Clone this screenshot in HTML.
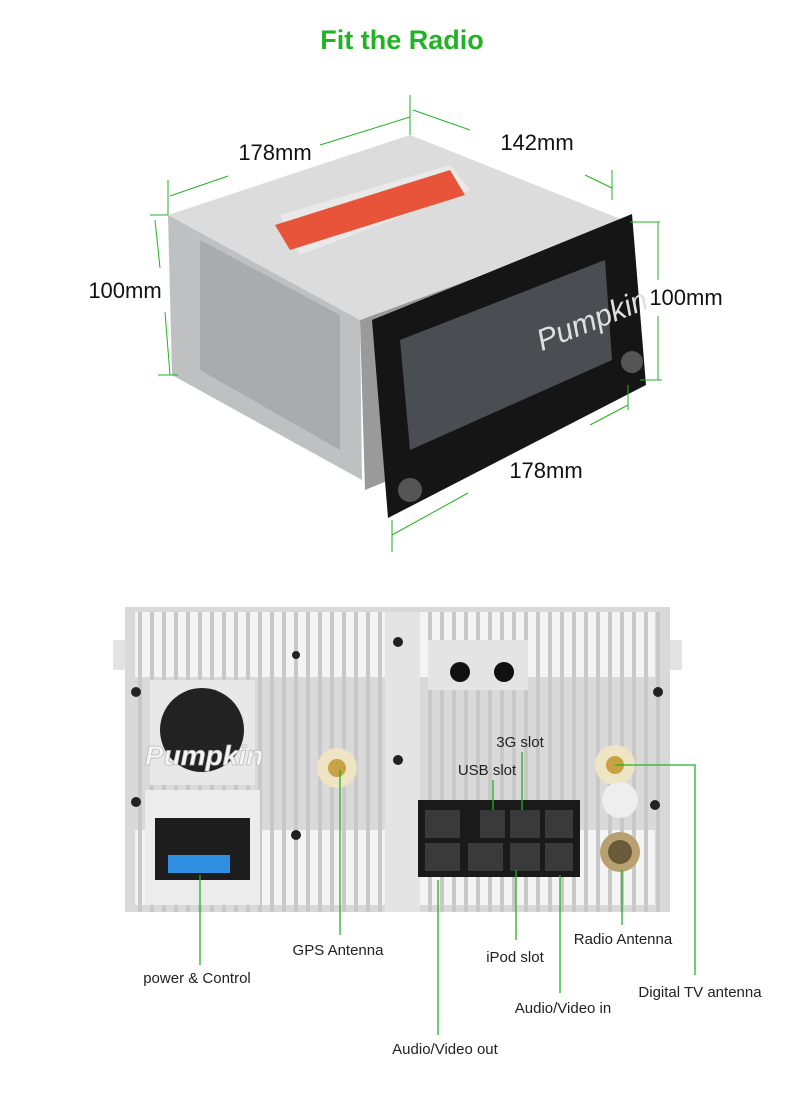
<!DOCTYPE html>
<html><head><meta charset="utf-8"><style>
html,body{margin:0;padding:0;background:#fff;}
body{width:799px;height:1098px;position:relative;overflow:hidden;font-family:"Liberation Sans",sans-serif;}
</style></head><body>
<svg width="799" height="1098" viewBox="0 0 799 1098" xmlns="http://www.w3.org/2000/svg" font-family="Liberation Sans, sans-serif">
<text x="402" y="49" text-anchor="middle" font-size="27" font-weight="bold" fill="#22b324">Fit the Radio</text>

<!-- top device -->
<polygon points="168,215 410,135 628,222 360,320" fill="#dcdcdc"/>
<polygon points="280,215 450,165 470,190 300,255" fill="#e9e9e9"/>
<polygon points="275,225 450,170 465,195 290,250" fill="#e8543a"/>
<polygon points="168,215 360,320 362,480 172,375" fill="#bfc0c2"/>
<polygon points="200,240 340,315 340,450 200,370" fill="#a9abad"/>
<polygon points="360,320 628,222 634,380 365,490" fill="#9a9a9a"/>
<polygon points="372,320 632,214 646,385 388,518" fill="#151515"/>
<polygon points="400,340 605,260 612,360 410,450" fill="#4a4d52"/>
<text x="525" y="335" font-size="30" fill="#e0e0e0" transform="rotate(-22 575 300)" font-style="italic">Pumpkin</text>
<circle cx="410" cy="490" r="12" fill="#555"/>
<circle cx="632" cy="362" r="11" fill="#555"/>

<g stroke="#22b324" stroke-width="1" fill="none">
<line x1="170" y1="196" x2="228" y2="176"/><line x1="320" y1="145" x2="410" y2="117"/>
<line x1="168" y1="180" x2="168" y2="215"/><line x1="410" y1="95" x2="410" y2="135"/>
<line x1="413" y1="110" x2="470" y2="130"/><line x1="585" y1="175" x2="612" y2="188"/>
<line x1="612" y1="170" x2="612" y2="200"/>
<line x1="150" y1="215" x2="168" y2="215"/><line x1="155" y1="220" x2="160" y2="268"/><line x1="165" y1="312" x2="170" y2="375"/><line x1="158" y1="375" x2="178" y2="375"/>
<line x1="630" y1="222" x2="660" y2="222"/><line x1="658" y1="222" x2="658" y2="280"/><line x1="658" y1="316" x2="658" y2="380"/><line x1="640" y1="380" x2="662" y2="380"/>
<line x1="392" y1="535" x2="468" y2="493"/><line x1="392" y1="520" x2="392" y2="552"/><line x1="628" y1="385" x2="628" y2="410"/><line x1="590" y1="425" x2="628" y2="405"/>
</g>
<g font-size="22" fill="#111">
<text x="275" y="160" text-anchor="middle">178mm</text>
<text x="537" y="150" text-anchor="middle">142mm</text>
<text x="125" y="298" text-anchor="middle">100mm</text>
<text x="686" y="305" text-anchor="middle">100mm</text>
<text x="546" y="478" text-anchor="middle">178mm</text>
</g>

<!-- back panel -->
<rect x="113" y="640" width="14" height="30" fill="#e3e3e3"/>
<rect x="668" y="640" width="14" height="30" fill="#e3e3e3"/>
<rect x="125" y="607" width="545" height="305" fill="#d9d9d9"/>
<g fill="#f4f4f4">
<rect x="135" y="612" width="520" height="65"/>
<rect x="135" y="830" width="520" height="75"/>
</g>
<g stroke="#c8c8c8" stroke-width="4">
<path d="M140 612v300M152 612v300M164 612v300M176 612v300M188 612v300M200 612v300M212 612v300M224 612v300M236 612v300M248 612v300M260 612v300M272 612v300M284 612v300M296 612v300M308 612v300M320 612v300M332 612v300M344 612v300M356 612v300M368 612v300M380 612v300M430 612v300M442 612v300M454 612v300M466 612v300M478 612v300M490 612v300M502 612v300M514 612v300M526 612v300M538 612v300M550 612v300M562 612v300M574 612v300M586 612v300M598 612v300M610 612v300M622 612v300M634 612v300M646 612v300M658 612v300"/>
</g>
<rect x="385" y="612" width="35" height="300" fill="#e4e4e4"/>
<rect x="428" y="640" width="100" height="50" fill="#e4e4e4"/>
<circle cx="460" cy="672" r="10" fill="#111"/><circle cx="504" cy="672" r="10" fill="#111"/>
<rect x="150" y="680" width="105" height="105" fill="#e8e8e8"/>
<circle cx="202" cy="730" r="42" fill="#222"/>
<text x="145" y="765" font-size="28" fill="#f5f5f5" font-style="italic" font-weight="bold" stroke="#bbb" stroke-width="0.8">Pumpkin</text>
<rect x="145" y="790" width="115" height="115" fill="#ececec"/>
<rect x="155" y="818" width="95" height="62" fill="#1d1d1d"/>
<rect x="168" y="855" width="62" height="18" fill="#2f8fe0"/>
<circle cx="337" cy="768" r="20" fill="#efe4c4"/><circle cx="337" cy="768" r="9" fill="#c9a243"/>
<circle cx="615" cy="765" r="20" fill="#efe4c4"/><circle cx="615" cy="765" r="9" fill="#c9a243"/>
<circle cx="620" cy="800" r="18" fill="#eee"/>
<circle cx="620" cy="852" r="20" fill="#b8a070"/><circle cx="620" cy="852" r="12" fill="#6a5a3a"/>
<rect x="600" y="780" width="55" height="125" fill="none"/>
<rect x="418" y="800" width="162" height="77" fill="#1a1a1a"/>
<g fill="#3a3a3a">
<rect x="425" y="810" width="35" height="28"/><rect x="480" y="810" width="25" height="28"/><rect x="510" y="810" width="30" height="28"/><rect x="545" y="810" width="28" height="28"/>
<rect x="425" y="843" width="35" height="28"/><rect x="468" y="843" width="35" height="28"/><rect x="510" y="843" width="30" height="28"/><rect x="545" y="843" width="28" height="28"/>
</g>
<g fill="#222"><circle cx="136" cy="692" r="5"/><circle cx="136" cy="802" r="5"/><circle cx="296" cy="835" r="5"/><circle cx="398" cy="642" r="5"/><circle cx="398" cy="760" r="5"/><circle cx="658" cy="692" r="5"/><circle cx="655" cy="805" r="5"/><circle cx="296" cy="655" r="4"/></g>

<g stroke="#22b324" stroke-width="1.3" fill="none">
<line x1="200" y1="875" x2="200" y2="965"/>
<line x1="340" y1="770" x2="340" y2="935"/>
<line x1="516" y1="870" x2="516" y2="940"/>
<line x1="560" y1="875" x2="560" y2="993"/>
<line x1="438" y1="880" x2="438" y2="1035"/>
<line x1="622" y1="870" x2="622" y2="925"/>
<polyline points="615,765 695,765 695,975"/>
<line x1="493" y1="780" x2="493" y2="810"/>
<line x1="522" y1="752" x2="522" y2="810"/>
</g>
<g font-size="15" fill="#222" text-anchor="middle">
<text x="197" y="983">power &amp; Control</text>
<text x="338" y="955">GPS Antenna</text>
<text x="515" y="962">iPod slot</text>
<text x="563" y="1013">Audio/Video in</text>
<text x="445" y="1054">Audio/Video out</text>
<text x="623" y="944">Radio Antenna</text>
<text x="700" y="997">Digital TV antenna</text>
<text x="487" y="775">USB slot</text>
<text x="520" y="747">3G slot</text>
</g>
</svg>
</body></html>
